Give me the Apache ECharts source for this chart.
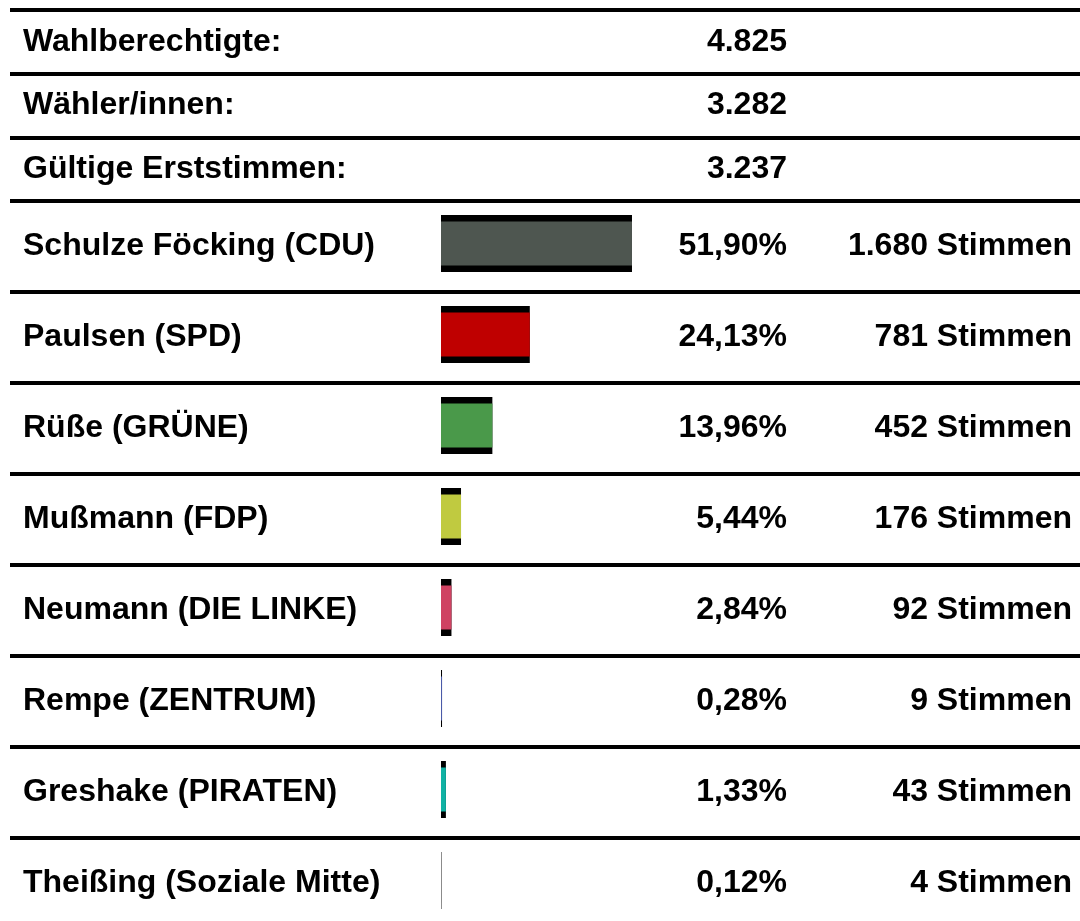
<!DOCTYPE html>
<html>
<head>
<meta charset="utf-8">
<script src="https://cdn.jsdelivr.net/npm/echarts@6/dist/echarts.min.js"></script>
<style>
html,body{margin:0;padding:0;background:#fff;}
#chart{width:1080px;height:921px;}
</style>
</head>
<body>
<div id="chart"></div>
<script>
// ---- data ----
const summaryLabels = ['Wahlberechtigte:', 'Wähler/innen:', 'Gültige Erststimmen:'];
const summaryValues = [4825, 3282, 3237];
const candidates = ['Schulze Föcking (CDU)', 'Paulsen (SPD)', 'Rüße (GRÜNE)', 'Mußmann (FDP)',
  'Neumann (DIE LINKE)', 'Rempe (ZENTRUM)', 'Greshake (PIRATEN)', 'Theißing (Soziale Mitte)'];
const percents = [51.90, 24.13, 13.96, 5.44, 2.84, 0.28, 1.33, 0.12];
const votes = [1680, 781, 452, 176, 92, 9, 43, 4];
const partyColors = ['#4e5650', '#bf0000', '#4a994a', '#c0ca40', '#cf4262', '#4a5aa8', '#10b2a4', '#888888'];

// ---- helpers ----
function thousands(n) {
  return String(n).replace(/\B(?=(\d{3})+(?!\d))/g, '.');
}
function pct(v) { return v.toFixed(2).replace('.', ',') + '%'; }

const font = { fontFamily: 'Liberation Sans, Arial, sans-serif', fontWeight: 'bold', fontSize: 32, color: '#000' };
const lineStyle = { color: '#000', width: 4 };

const chart = echarts.init(document.getElementById('chart'), null, { renderer: 'canvas' });

const hiddenX = (gi, extra) => Object.assign({ type: 'value', gridIndex: gi, show: false, splitLine: { show: false } }, extra || {});

function catAxis(gi, data, opts) {
  return Object.assign({
    type: 'category', gridIndex: gi, data: data, inverse: true,
    axisLine: { show: false }, axisTick: { show: false },
    splitLine: { show: false }
  }, opts);
}
const g = (o) => Object.assign({ outerBoundsMode: 'none', containLabel: false }, o);

const option = {
  animation: false,
  backgroundColor: '#fff',
  grid: [
    g({ left: 10, width: 1070, top: 10, height: 191 }),    // 0 summary rows (full width)
    g({ left: 10, width: 1070, top: 201, height: 728 }),   // 1 candidate rows (full width)
    g({ left: 441, width: 368, top: 198, height: 728 }),   // 2 bars
    g({ left: 441, width: 368, top: 10, height: 191 }),    // 3 summary numbers
    g({ left: 441, width: 368, top: 201, height: 728 })    // 4 percent labels
  ],
  xAxis: [hiddenX(0), hiddenX(1), hiddenX(2, { min: 0, max: 100 }), hiddenX(3), hiddenX(4)],
  yAxis: [
    catAxis(0, summaryLabels, {
      position: 'left',
      axisLabel: Object.assign({ inside: true, margin: 13, align: 'left' }, font),
      splitLine: { show: true, lineStyle: lineStyle }
    }),
    catAxis(1, candidates, {
      position: 'left',
      axisLabel: Object.assign({ inside: true, margin: 13, align: 'left' }, font),
      splitLine: { show: true, lineStyle: lineStyle }
    }),
    catAxis(1, votes.map(v => thousands(v) + ' Stimmen'), {
      position: 'right',
      axisLabel: Object.assign({ inside: true, margin: 8, align: 'right' }, font)
    }),
    catAxis(4, percents.map(pct), {
      position: 'right',
      axisLabel: Object.assign({ inside: true, margin: 22, align: 'right' }, font)
    }),
    catAxis(3, summaryValues.map(thousands), {
      position: 'right',
      axisLabel: Object.assign({ inside: true, margin: 22, align: 'right' }, font)
    }),
    catAxis(2, candidates, { show: false }),  // 5 bar outline axis
    catAxis(2, candidates, { show: false })   // 6 bar fill axis
  ],
  series: [
    {
      type: 'bar', xAxisIndex: 2, yAxisIndex: 5,
      data: percents, barWidth: 57,
      itemStyle: { color: '#000' }, silent: true
    },
    {
      type: 'bar', xAxisIndex: 2, yAxisIndex: 6,
      data: percents.map((v, i) => ({ value: v, itemStyle: { color: partyColors[i] } })),
      barWidth: 44, silent: true
    }
  ]
};
chart.setOption(option);
</script>
</body>
</html>
